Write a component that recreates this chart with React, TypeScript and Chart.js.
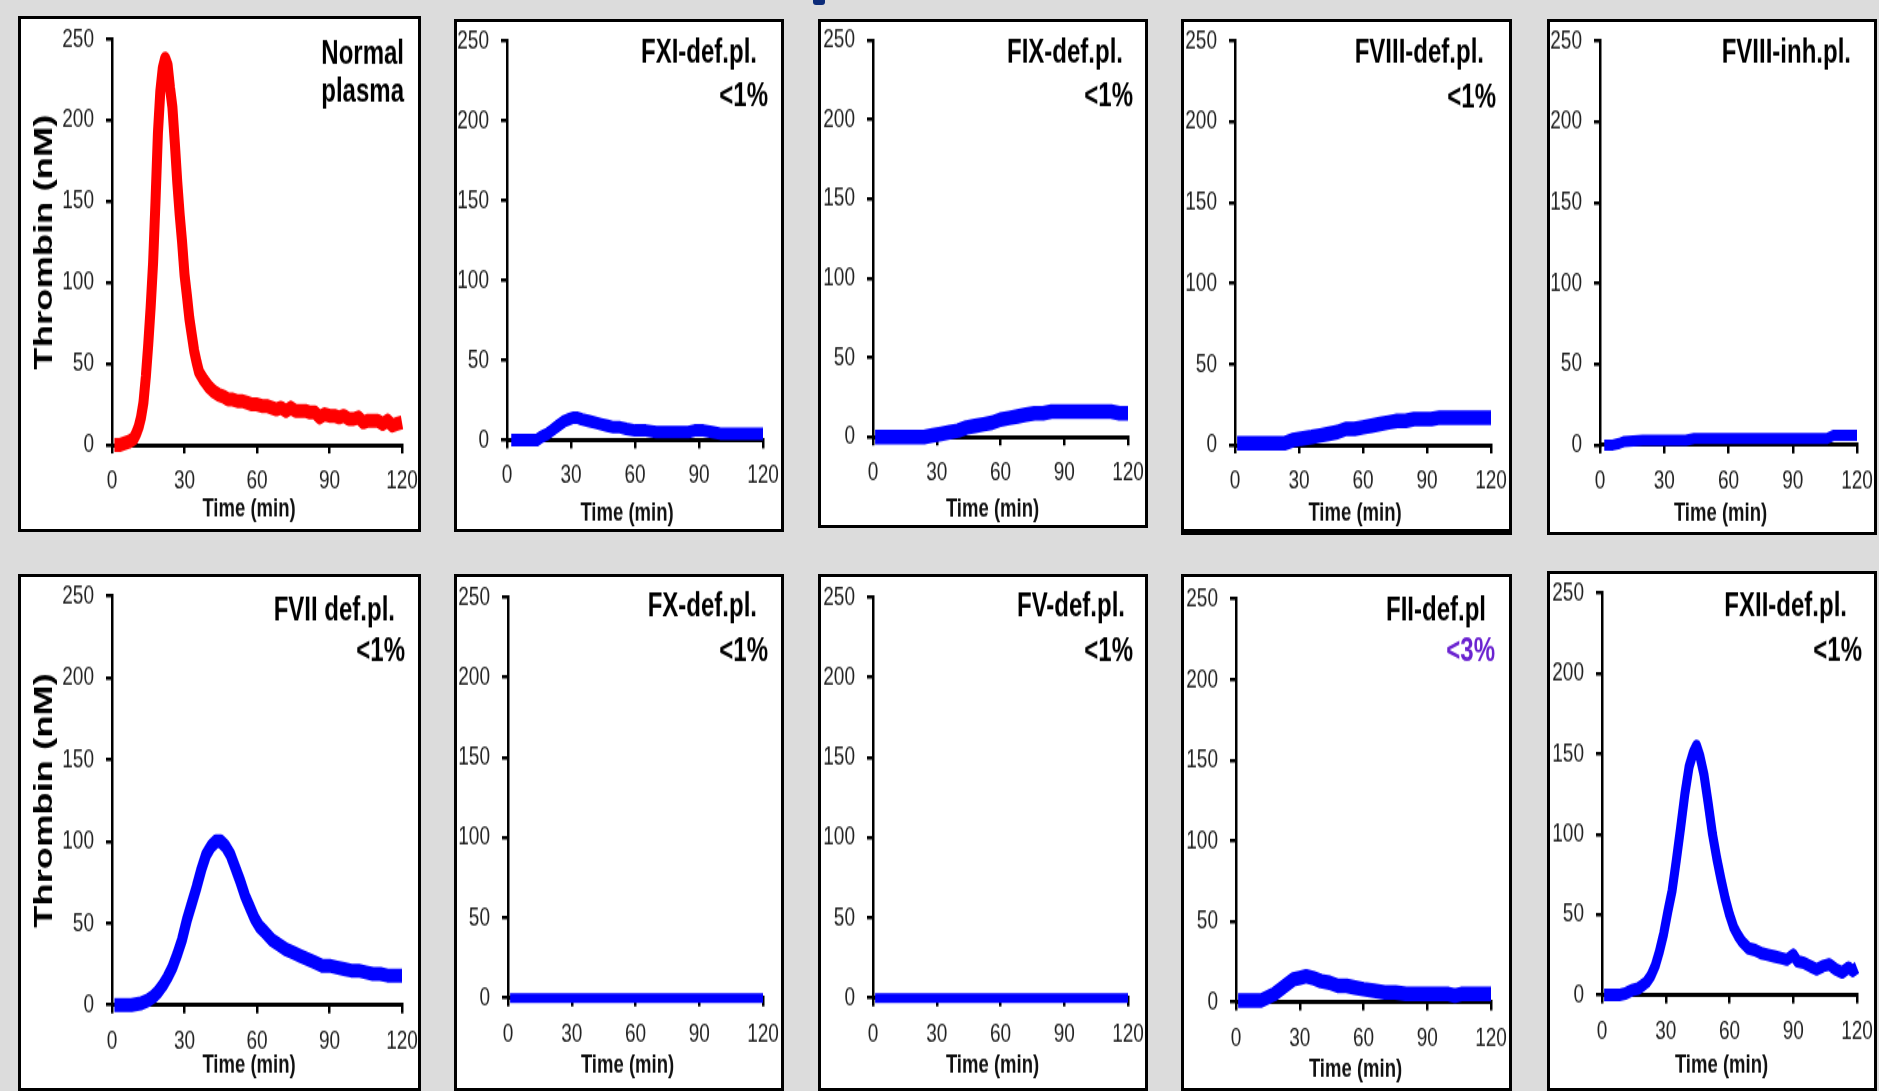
import React, { useEffect, useRef } from "react";
import { Chart, registerables } from "chart.js";

Chart.register(...registerables);

// ---------------- data ----------------
const TIME_TICKS = [0, 30, 60, 90, 120];
const THROMBIN_TICKS = [0, 50, 100, 150, 200, 250];
const X_AXIS_LABEL = "Time (min)";
const Y_AXIS_LABEL = "Thrombin (nM)";

const normalTime = [1, 3, 5, 7, 9, 10, 11, 12, 13, 14, 15, 16, 17, 18, 19, 20, 21, 22, 23, 24, 25, 26, 27, 28, 29, 30, 31, 32, 33, 34, 35, 36, 38, 40, 42, 44, 46, 48, 50, 52, 54, 56, 58, 60, 62, 64, 66, 68, 70, 72, 74, 76, 78, 80, 82, 84, 86, 88, 90, 92, 94, 96, 98, 100, 102, 104, 106, 108, 110, 112, 114, 116, 118, 120];
const normalThrombin = [0, 0, 1, 2, 4, 7, 11, 17, 26, 42, 62, 85, 112, 150, 192, 218, 232, 238, 234, 220, 208, 186, 162, 142, 125, 105, 92, 78, 68, 58, 51, 45, 40, 36, 33, 31, 30, 28, 28, 27, 27, 26, 25, 25, 24, 24, 23, 22, 23, 21, 23, 21, 21, 21, 20, 20, 17, 19, 18, 18, 17, 18, 16, 16, 17, 14, 15, 15, 15, 13, 15, 12, 13, 14];

const fxiTime = [2, 8, 14, 16, 19, 21, 23, 25, 27, 29, 31, 33, 35, 38, 41, 44, 47, 50, 53, 56, 60, 65, 70, 75, 80, 85, 88, 92, 96, 100, 105, 110, 115, 120];
const fxiThrombin = [0, 0, 0, 2, 4, 6, 8, 10, 12, 13, 14, 14, 13, 12, 11, 10, 9, 8, 8, 7, 6, 6, 5, 5, 5, 5, 6, 6, 5, 4, 4, 4, 4, 4];

const fixTime = [1, 6, 12, 18, 24, 28, 32, 36, 40, 44, 48, 52, 56, 60, 64, 68, 72, 76, 80, 84, 88, 92, 96, 100, 104, 108, 112, 116, 120];
const fixThrombin = [0, 0, 0, 0, 0, 1, 2, 3, 4, 6, 7, 8, 9, 11, 12, 13, 14, 15, 15, 16, 16, 16, 16, 16, 16, 16, 16, 15, 15];

const fviiiDefTime = [1, 6, 12, 18, 23, 27, 31, 36, 40, 44, 48, 52, 56, 60, 64, 68, 72, 76, 80, 84, 88, 92, 96, 100, 105, 110, 115, 120];
const fviiiDefThrombin = [1, 1, 1, 1, 1, 3, 4, 5, 6, 7, 8, 10, 10, 11, 12, 13, 14, 15, 15, 16, 16, 16, 17, 17, 17, 17, 17, 17];

const fviiiInhTime = [2, 6, 9, 11, 20, 30, 40, 44, 50, 60, 70, 80, 90, 100, 106, 109, 112, 116, 120];
const fviiiInhThrombin = [0, 0, 1, 2, 3, 3, 3, 4, 4, 4, 4, 4, 4, 4, 4, 6, 6, 6, 6];

const fviiTime = [1, 4, 8, 12, 15, 17, 19, 21, 23, 25, 27, 29, 31, 33, 35, 37, 39, 41, 43, 45, 47, 49, 51, 53, 55, 57, 59, 61, 63, 66, 69, 72, 75, 78, 81, 84, 87, 90, 93, 96, 99, 102, 105, 108, 111, 114, 117, 120];
const fviiThrombin = [0, 0, 0, 1, 3, 5, 8, 12, 17, 23, 31, 40, 52, 62, 72, 83, 92, 97, 100, 100, 97, 92, 84, 76, 67, 60, 53, 48, 45, 40, 37, 34, 32, 30, 28, 26, 24, 24, 23, 22, 21, 21, 20, 19, 19, 18, 18, 18];

const fxTime = [1, 30, 60, 90, 120];
const fxThrombin = [0, 0, 0, 0, 0];

const fvTime = [1, 30, 60, 90, 120];
const fvThrombin = [0, 0, 0, 0, 0];

const fiiTime = [1, 6, 12, 15, 18, 21, 24, 27, 30, 33, 36, 40, 44, 48, 52, 56, 60, 65, 70, 75, 80, 85, 90, 95, 100, 103, 106, 110, 115, 120];
const fiiThrombin = [1, 1, 1, 3, 5, 8, 11, 14, 15, 16, 15, 13, 12, 10, 10, 9, 8, 7, 6, 6, 5, 5, 5, 5, 5, 4, 5, 5, 5, 5];

const fxiiTime = [1, 4, 8, 11, 14, 17, 19, 21, 23, 25, 27, 29, 31, 33, 35, 37, 39, 41, 43, 44.5, 46, 48, 50, 52, 54, 56, 58, 60, 62, 64, 66, 69, 72, 75, 78, 81, 84, 87, 90, 92, 95, 98, 101, 104, 107, 110, 113, 116, 118, 120];
const fxiiThrombin = [0, 0, 0, 1, 3, 4, 6, 8, 12, 18, 27, 38, 52, 65, 84, 104, 125, 142, 151, 155, 149, 137, 119, 100, 85, 72, 60, 50, 42, 37, 33, 29, 28, 26, 25, 24, 23, 22, 25, 21, 20, 18, 16, 18, 19, 16, 14, 17, 15, 17];

const PANEL_TITLES = [
  ["Normal", "plasma"],
  ["FXI-def.pl.", "<1%"],
  ["FIX-def.pl.", "<1%"],
  ["FVIII-def.pl.", "<1%"],
  ["FVIII-inh.pl."],
  ["FVII def.pl.", "<1%"],
  ["FX-def.pl.", "<1%"],
  ["FV-def.pl.", "<1%"],
  ["FII-def.pl", "<3%"],
  ["FXII-def.pl.", "<1%"],
];

const SERIES = [
  { time: normalTime, thrombin: normalThrombin, color: "#ff0000" },
  { time: fxiTime, thrombin: fxiThrombin, color: "#0000ff" },
  { time: fixTime, thrombin: fixThrombin, color: "#0000ff" },
  { time: fviiiDefTime, thrombin: fviiiDefThrombin, color: "#0000ff" },
  { time: fviiiInhTime, thrombin: fviiiInhThrombin, color: "#0000ff" },
  { time: fviiTime, thrombin: fviiThrombin, color: "#0000ff" },
  { time: fxTime, thrombin: fxThrombin, color: "#0000ff" },
  { time: fvTime, thrombin: fvThrombin, color: "#0000ff" },
  { time: fiiTime, thrombin: fiiThrombin, color: "#0000ff" },
  { time: fxiiTime, thrombin: fxiiThrombin, color: "#0000ff" },
];

// ---------------- layout (page pixels) ----------------
const FONT = '"Liberation Sans", Arial, Helvetica, sans-serif';
const STRETCH = 1.4;
const BORDER = 3;
const TICK_LABEL_OFFSET = 36;
const TIME_LABEL_SHIFT = -8;

type Layout = {
  frame: number[];
  bottomBorder?: number;
  axisX: number;
  x120: number;
  y250: number;
  y0: number;
  timeY: number;
  titleRight: number[];
  titleY: number[];
  lw: number;
  yTitle?: boolean;
  noteColor?: string;
};

const LAYOUT: Layout[] = [
  { frame: [18, 16, 421, 532], axisX: 112, x120: 402, y250: 39, y0: 445, timeY: 509, titleRight: [404, 404], titleY: [54, 93], lw: 10, yTitle: true },
  { frame: [454, 19, 784, 532], axisX: 507, x120: 763, y250: 41, y0: 440, timeY: 513, titleRight: [757, 768], titleY: [54, 97], lw: 9 },
  { frame: [818, 19, 1148, 528], axisX: 873, x120: 1128, y250: 40, y0: 437, timeY: 509, titleRight: [1123, 1133], titleY: [54, 97], lw: 10.5 },
  { frame: [1181, 19, 1512, 535], bottomBorder: 6, axisX: 1235, x120: 1491, y250: 41, y0: 445, timeY: 513, titleRight: [1484, 1496], titleY: [54, 98], lw: 10.5 },
  { frame: [1547, 19, 1877, 535], axisX: 1600, x120: 1857, y250: 41, y0: 445, timeY: 514, titleRight: [1851], titleY: [53], lw: 8 },
  { frame: [18, 574, 421, 1091], axisX: 112, x120: 402, y250: 596, y0: 1005, timeY: 1066, titleRight: [395, 405], titleY: [611, 652], lw: 10, yTitle: true },
  { frame: [454, 574, 784, 1091], axisX: 508, x120: 763, y250: 597, y0: 998, timeY: 1066, titleRight: [757, 768], titleY: [607, 652], lw: 7 },
  { frame: [818, 574, 1148, 1091], axisX: 873, x120: 1128, y250: 597, y0: 998, timeY: 1066, titleRight: [1125, 1133], titleY: [607, 652], lw: 7 },
  { frame: [1181, 574, 1512, 1091], axisX: 1236, x120: 1491, y250: 599, y0: 1002, timeY: 1070, titleRight: [1486, 1495], titleY: [611, 652], lw: 10.5, noteColor: "#6a22d0" },
  { frame: [1547, 571, 1877, 1091], axisX: 1602, x120: 1857, y250: 593, y0: 995, timeY: 1066, titleRight: [1847, 1862], titleY: [607, 652], lw: 9 },
];

function geometry(l: Layout) {
  const [fl, ft, fr, fb] = l.frame;
  const bb = l.bottomBorder ?? BORDER;
  const ix = fl + BORDER;
  const iy = ft + BORDER;
  const cw = fr - fl - 2 * BORDER;
  const hp = fb - ft - BORDER - bb;
  const ch = Math.round(hp / STRETCH);
  const k = hp / ch;
  const cy = (py: number) => (py - iy) / k;
  return {
    fl, ft, fr, fb, bb, ix, iy, cw, ch, k, hp, cy,
    left: l.axisX - ix,
    right: l.x120 - ix,
    top: cy(l.y250),
    bottom: cy(l.y0),
  };
}

function Panel({ idx }: { idx: number }) {
  const ref = useRef<HTMLCanvasElement | null>(null);
  const layout = LAYOUT[idx];
  const series = SERIES[idx];
  const titles = PANEL_TITLES[idx];
  const g = geometry(layout);

  useEffect(() => {
    const canvas = ref.current;
    if (!canvas) return;
    const points = series.time.map((t, i) => ({ x: t, y: series.thrombin[i] }));
    const tickLen = 6;
    const xTickPad = TICK_LABEL_OFFSET / g.k - tickLen - (19 * 1.2) / 2;
    const yTitleLH = 26 * 1.2;
    const yTitlePad = Math.max(0, 45 - g.ix - yTitleLH / 2);

    const titlePlugin = {
      id: "panelTitle",
      afterDraw(chart: any) {
        const ctx = chart.ctx;
        const area = chart.chartArea;
        ctx.save();
        ctx.font = `bold 24px ${FONT}`;
        ctx.textAlign = "right";
        ctx.textBaseline = "middle";
        titles.forEach((line, i) => {
          ctx.fillStyle = i === 1 && layout.noteColor ? layout.noteColor : "#000";
          ctx.fillText(line, layout.titleRight[i] - g.ix, g.cy(layout.titleY[i]));
        });
        // x-axis title
        ctx.font = `bold 18.5px ${FONT}`;
        ctx.textAlign = "center";
        ctx.fillStyle = "#111";
        ctx.fillText(X_AXIS_LABEL, (area.left + area.right) / 2 + TIME_LABEL_SHIFT, g.cy(layout.timeY));
        ctx.restore();
      },
    };

    const chart = new Chart(canvas, {
      type: "line",
      data: {
        datasets: [
          {
            data: points,
            borderColor: series.color,
            backgroundColor: series.color,
            borderWidth: layout.lw,
            borderJoinStyle: "round",
            borderCapStyle: "butt",
            pointRadius: 0,
            tension: 0,
            fill: false,
            clip: false,
          },
        ],
      },
      options: {
        animation: false,
        responsive: false,
        events: [],
        layout: { padding: { left: 0, top: g.top, right: g.cw - g.right, bottom: 0 } },
        plugins: { legend: { display: false }, tooltip: { enabled: false }, title: { display: false } },
        scales: {
          x: {
            type: "linear",
            min: TIME_TICKS[0],
            max: TIME_TICKS[TIME_TICKS.length - 1],
            afterBuildTicks: (s: any) => {
              s.ticks = TIME_TICKS.map((v) => ({ value: v }));
            },
            afterFit: (s: any) => {
              s.height = g.ch - g.bottom;
              s.paddingLeft = 0;
              s.paddingRight = 0;
            },
            ticks: { autoSkip: false, maxRotation: 0, padding: xTickPad, color: "#222", font: { family: FONT, size: 19 } },
            grid: { display: true, drawOnChartArea: false, drawTicks: true, tickLength: tickLen, color: "#000", lineWidth: 2.5 },
            border: { display: true, color: "#000", width: 3 },
            title: { display: false },
          },
          y: {
            type: "linear",
            min: THROMBIN_TICKS[0],
            max: THROMBIN_TICKS[THROMBIN_TICKS.length - 1],
            afterBuildTicks: (s: any) => {
              s.ticks = THROMBIN_TICKS.map((v) => ({ value: v }));
            },
            afterFit: (s: any) => {
              s.width = g.left;
              s.paddingTop = 0;
              s.paddingBottom = 0;
            },
            ticks: { autoSkip: false, padding: 12, color: "#222", font: { family: FONT, size: 19 } },
            grid: { display: true, drawOnChartArea: false, drawTicks: true, tickLength: tickLen, color: "#000", lineWidth: 2.5 },
            border: { display: true, color: "#000", width: 2.5 },
            title: {
              display: !!layout.yTitle,
              text: Y_AXIS_LABEL,
              color: "#000",
              font: { family: FONT, size: 26, weight: "bold" },
              padding: { top: yTitlePad, bottom: 0 },
            },
          },
        },
      },
      plugins: [titlePlugin],
    } as any);
    return () => chart.destroy();
  }, []);

  return (
    <div
      style={{
        position: "absolute",
        left: g.fl,
        top: g.ft,
        width: g.fr - g.fl,
        height: g.fb - g.ft,
        boxSizing: "border-box",
        borderStyle: "solid",
        borderColor: "#000",
        borderWidth: `${BORDER}px ${BORDER}px ${g.bb}px ${BORDER}px`,
        background: "#fff",
        overflow: "hidden",
      }}
    >
      <div
        style={{
          position: "absolute",
          left: 0,
          top: 0,
          width: g.cw,
          height: g.ch,
          transform: `scaleY(${g.k})`,
          transformOrigin: "0 0",
        }}
      >
        <canvas
          ref={ref}
          width={g.cw}
          height={g.ch}
          style={{ display: "block", width: g.cw + "px", height: g.ch + "px" }}
        />
      </div>
    </div>
  );
}

export default function App() {
  return (
    <div
      style={{
        position: "fixed",
        left: 0,
        top: 0,
        width: 1879,
        height: 1091,
        background: "#dcdcdc",
        overflow: "hidden",
      }}
    >
      <div
        style={{
          position: "absolute",
          left: 813,
          top: 0,
          width: 12,
          height: 5,
          background: "#0b2a78",
          borderRadius: "0 0 3px 3px",
        }}
      />
      {LAYOUT.map((_, i) => (
        <Panel key={i} idx={i} />
      ))}
    </div>
  );
}
